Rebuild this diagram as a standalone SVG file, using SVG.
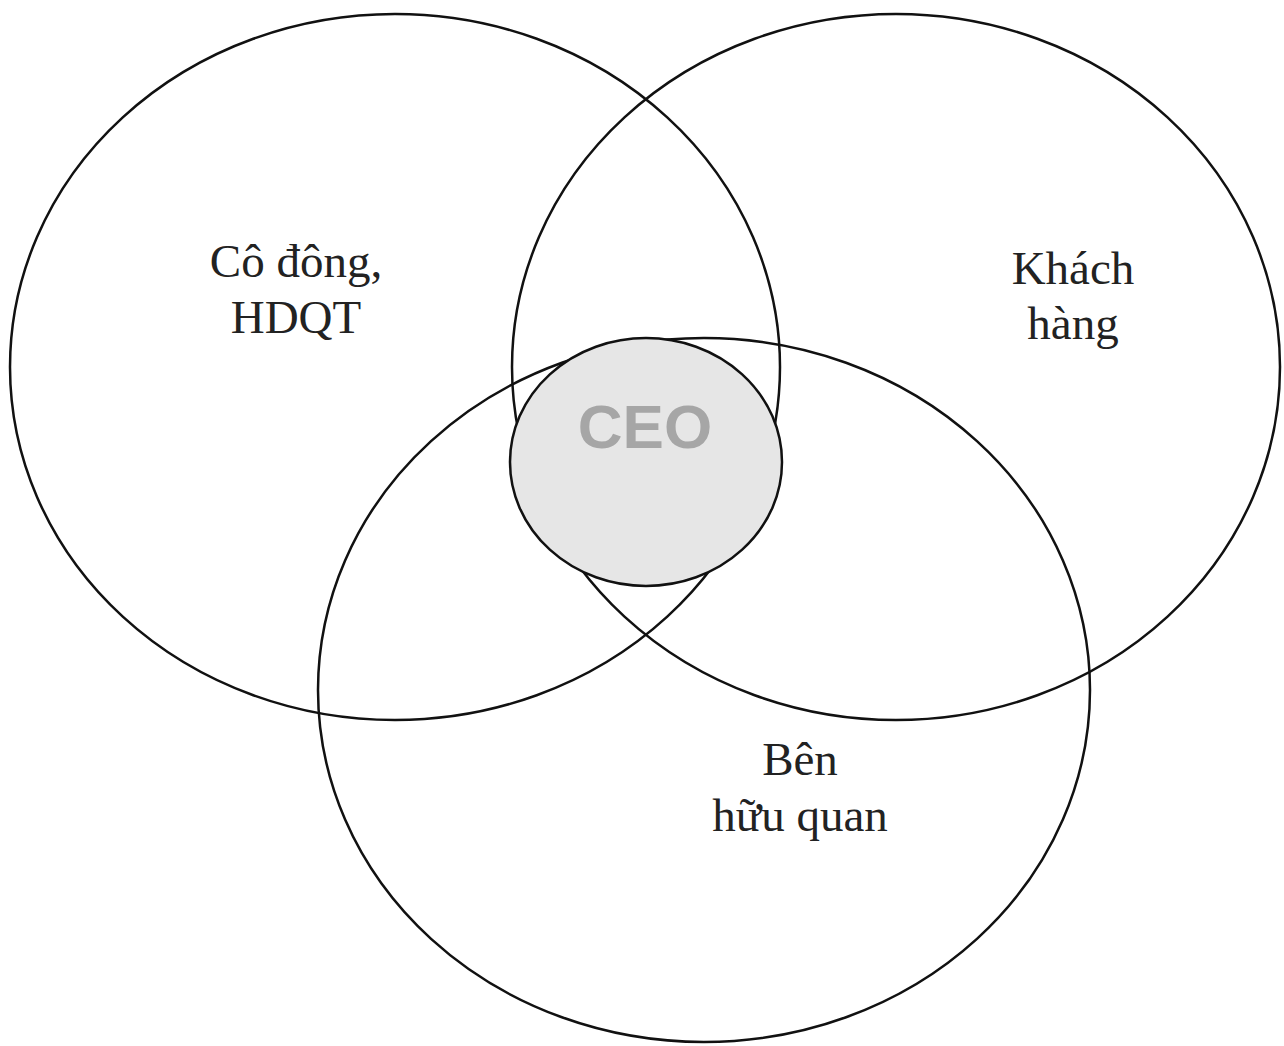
<svg xmlns="http://www.w3.org/2000/svg" width="1284" height="1046" viewBox="0 0 1284 1046">
  <style>
    .ring { fill: none; stroke: #111; stroke-width: 2.5; }
    .core { fill: #e6e6e6; stroke: #111; stroke-width: 2.5; }
    .label { font-family: "Liberation Serif", "Times New Roman", serif; font-size: 47px; fill: #222; text-anchor: middle; }
    .core-label { font-family: "Liberation Sans", Arial, sans-serif; font-size: 62px; font-weight: bold; fill: #a6a6a6; text-anchor: middle; }
  </style>
  <rect width="1284" height="1046" fill="#fff"/>
  <g id="shareholders">
    <ellipse class="ring" cx="395" cy="367" rx="385" ry="353"/>
    <text class="label" x="296" y="277">Cô đông,</text>
    <text class="label" x="296" y="333">HDQT</text>
  </g>
  <g id="customers">
    <ellipse class="ring" cx="896" cy="367" rx="384" ry="353"/>
    <text class="label" x="1073" y="284">Khách</text>
    <text class="label" x="1073" y="339">hàng</text>
  </g>
  <g id="stakeholders">
    <ellipse class="ring" cx="704" cy="690" rx="386" ry="352"/>
    <text class="label" x="800" y="775">Bên</text>
    <text class="label" x="800" y="831">hữu quan</text>
  </g>
  <g id="ceo">
    <ellipse class="core" cx="646" cy="462" rx="136" ry="124"/>
    <text class="core-label" x="645" y="448">CEO</text>
  </g>
  <g id="connectors"/>
</svg>
